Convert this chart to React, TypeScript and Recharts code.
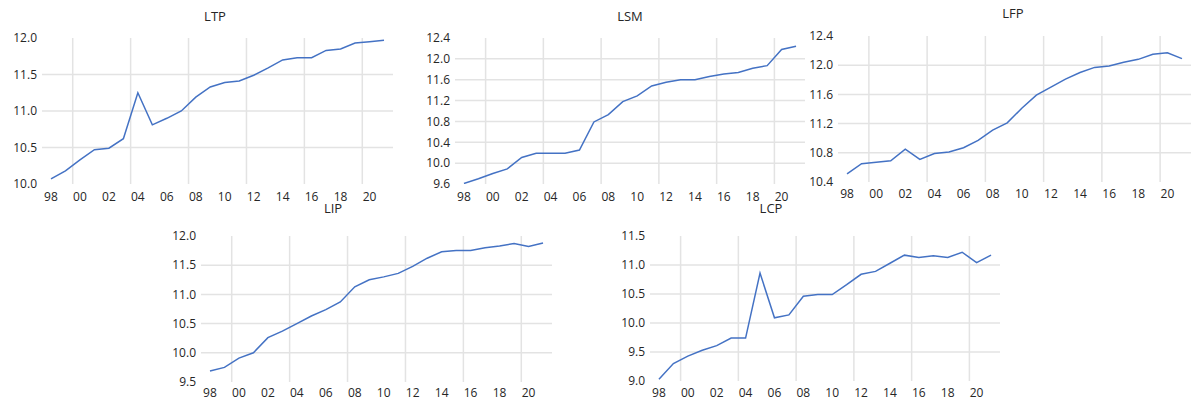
import { LineChart, Line, XAxis, YAxis, CartesianGrid } from "recharts";

const years = [1998, 1999, 2000, 2001, 2002, 2003, 2004, 2005, 2006, 2007, 2008, 2009, 2010, 2011, 2012, 2013, 2014, 2015, 2016, 2017, 2018, 2019, 2020, 2021];

const ltp = [10.07, 10.18, 10.33, 10.47, 10.49, 10.62, 11.25, 10.81, 10.90, 11.00, 11.19, 11.33, 11.39, 11.41, 11.49, 11.59, 11.70, 11.73, 11.73, 11.83, 11.85, 11.93, 11.95, 11.97];
const lsm = [9.61, 9.70, 9.80, 9.89, 10.11, 10.19, 10.19, 10.19, 10.25, 10.79, 10.93, 11.18, 11.29, 11.48, 11.55, 11.60, 11.60, 11.66, 11.71, 11.74, 11.82, 11.87, 12.18, 12.24];
const lfp = [10.51, 10.65, 10.67, 10.69, 10.85, 10.71, 10.79, 10.81, 10.87, 10.97, 11.11, 11.21, 11.41, 11.59, 11.70, 11.81, 11.90, 11.97, 11.99, 12.04, 12.08, 12.15, 12.17, 12.09];
const lip = [9.69, 9.75, 9.91, 10.00, 10.26, 10.37, 10.50, 10.63, 10.74, 10.87, 11.13, 11.25, 11.30, 11.36, 11.48, 11.62, 11.73, 11.75, 11.75, 11.80, 11.83, 11.87, 11.82, 11.88];
const lcp = [9.03, 9.30, 9.43, 9.53, 9.61, 9.74, 9.74, 10.86, 10.09, 10.14, 10.46, 10.49, 10.49, 10.66, 10.84, 10.89, 11.03, 11.17, 11.13, 11.16, 11.13, 11.22, 11.04, 11.17];

// tick labels: 98, 00, 02 ... 20
const xTicks = [1998, 2000, 2002, 2004, 2006, 2008, 2010, 2012, 2014, 2016, 2018, 2020];
// vertical grid sits between years
const xGrid = [1999.5, 2003.5, 2007.5, 2011.5, 2015.5, 2019.5];

const ltpTicks = [10.0, 10.5, 11.0, 11.5, 12.0];
const lsmTicks = [9.6, 10.0, 10.4, 10.8, 11.2, 11.6, 12.0, 12.4];
const lfpTicks = [10.4, 10.8, 11.2, 11.6, 12.0, 12.4];
const lipTicks = [9.5, 10.0, 10.5, 11.0, 11.5, 12.0];
const lcpTicks = [9.0, 9.5, 10.0, 10.5, 11.0, 11.5];

const FONT = '"Open Sans", "Noto Sans", sans-serif';
const TEXT = "#262626";

interface PanelProps {
  title: string;
  values: number[];
  ticks: number[];
  box: { x1: number; x2: number; y1: number; y2: number };
  titleAt: { x: number; y: number };
  labelGap?: number;
}

const Panel = ({ title, values, ticks, box, titleAt, labelGap = 3 }: PanelProps) => {
  const data = years.map((year, i) => ({ year, v: values[i] }));
  const yW = 45;
  const mTop = 12;
  const mRight = 3;
  const xH = 26;
  const width = box.x2 - box.x1 + yW + mRight;
  const height = box.y2 - box.y1 + mTop + xH;
  const tick = { fill: TEXT, fontSize: 12, fontFamily: FONT };

  return (
    <>
      <div
        style={{
          position: "absolute", left: titleAt.x - 30, top: titleAt.y - 7, width: 60,
          lineHeight: "14px", textAlign: "center", fontFamily: FONT, fontSize: 13, color: TEXT,
        }}
      >
        {title}
      </div>
      <div style={{ position: "absolute", left: box.x1 - yW, top: box.y1 - mTop }}>
        <LineChart width={width} height={height} data={data} margin={{ top: mTop, right: mRight, bottom: 0, left: 0 }}>
          <CartesianGrid stroke="#e3e3e3" strokeWidth={1.5}
            horizontalValues={ticks.slice(1, -1)} verticalValues={xGrid} />
          <XAxis dataKey="year" type="number" domain={[1997.38, 2021.62]} ticks={xTicks} interval={0}
            tickFormatter={(y: number) => String(y).slice(2)} axisLine={false} tickLine={false}
            tickSize={5} tickMargin={labelGap} height={xH} tick={tick} allowDataOverflow />
          <YAxis type="number" domain={[ticks[0], ticks[ticks.length - 1]]} ticks={ticks} interval={0}
            tickFormatter={(v: number) => v.toFixed(1)} axisLine={false} tickLine={false}
            tickSize={3} tickMargin={2} width={yW} tick={tick} allowDataOverflow />
          <Line type="linear" dataKey="v" stroke="#4472c4" strokeWidth={1.5} dot={false} isAnimationActive={false} />
        </LineChart>
      </div>
    </>
  );
};

export default function App() {
  return (
    <div style={{ position: "absolute", left: 0, top: 0, width: 1196, height: 400, background: "#fff", overflow: "hidden" }}>
      <Panel title="LTP" values={ltp} ticks={ltpTicks} box={{ x1: 42, x2: 393, y1: 38, y2: 184 }} titleAt={{ x: 215, y: 16 }} />
      <Panel title="LSM" values={lsm} ticks={lsmTicks} box={{ x1: 455, x2: 805, y1: 38, y2: 184 }} titleAt={{ x: 630, y: 16 }} />
      <Panel title="LFP" values={lfp} ticks={lfpTicks} box={{ x1: 838, x2: 1191, y1: 36, y2: 182 }} titleAt={{ x: 1013, y: 13 }} labelGap={2} />
      <Panel title="LIP" values={lip} ticks={lipTicks} box={{ x1: 201, x2: 552, y1: 236, y2: 382 }} titleAt={{ x: 333, y: 208 }} labelGap={1} />
      <Panel title="LCP" values={lcp} ticks={lcpTicks} box={{ x1: 650, x2: 1000, y1: 236, y2: 381 }} titleAt={{ x: 771, y: 208 }} labelGap={2} />
    </div>
  );
}
